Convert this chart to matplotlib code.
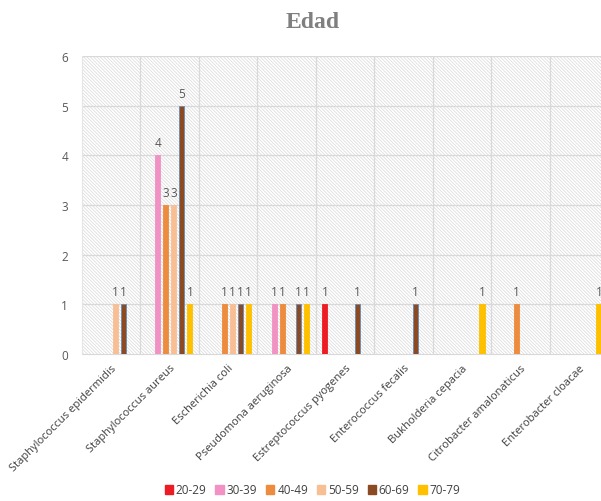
import matplotlib
matplotlib.use("Agg")
import matplotlib.pyplot as plt
import numpy as np
from matplotlib.patches import Rectangle, Patch

categories = [
    "Staphylococcus epidermidis", "Staphylococcus aureus", "Escherichia coli",
    "Pseudomona aeruginosa", "Estreptococcus pyogenes", "Enterococcus fecalis",
    "Bukholderia cepacia", "Citrobacter amalonaticus", "Enterobacter cloacae",
]
series_names = ["20-29", "30-39", "40-49", "50-59", "60-69", "70-79"]
v20_29 = [0, 0, 0, 0, 1, 0, 0, 0, 0]
v30_39 = [0, 4, 0, 1, 0, 0, 0, 0, 0]
v40_49 = [0, 3, 1, 1, 0, 0, 0, 1, 0]
v50_59 = [1, 3, 1, 0, 0, 0, 0, 0, 0]
v60_69 = [1, 5, 1, 1, 1, 1, 0, 0, 0]
v70_79 = [0, 1, 1, 1, 0, 0, 1, 0, 1]
values = [v20_29, v30_39, v40_49, v50_59, v60_69, v70_79]
colors = ["#ED1C24", "#F291C3", "#ED8B3E", "#F8BF95", "#8B4A21", "#FFC000"]
title = "Edad"

plt.rcParams["font.family"] = ["Open Sans", "DejaVu Sans"]
plt.rcParams["hatch.linewidth"] = 0.5
plt.rcParams["hatch.color"] = "#d8d8d8"

fig = plt.figure(figsize=(6.01, 5.02), dpi=100)
ax = fig.add_axes([82/601, 1-355/502, 526/601, 298/502])

n = len(categories)
x = np.arange(n)
pitch = 0.138
width = 0.088

# hatched background
ax.add_patch(Rectangle((0, 0), 1, 1, transform=ax.transAxes, facecolor="white",
                       edgecolor="#d8d8d8", hatch="\\" * 10, linewidth=0, zorder=0))

for i, (name, vals, c) in enumerate(zip(series_names, values, colors)):
    offs = (i - 2.5) * pitch
    vals = np.array(vals)
    mask = vals > 0
    ec = "#6a8bb5" if name == "60-69" else c
    ax.bar(x[mask] + offs, vals[mask], width=width, color=c,
           edgecolor=ec, linewidth=0.6, zorder=3, label=name)
    for xb, v in zip(x[mask] + offs, vals[mask]):
        ax.text(xb, v + 0.12, f"{v}", ha="center", va="bottom", fontsize=8.5,
                color="#595959", zorder=4)

ax.set_xlim(-0.5, n - 0.5)
ax.set_ylim(0, 6)
ax.set_yticks(range(0, 7))
ax.set_xticks(x)
ax.set_xticklabels(categories, rotation=45, ha="right", rotation_mode="anchor",
                   fontsize=8, color="#404040")
ax.tick_params(axis="x", length=0, pad=6)
ax.tick_params(axis="y", length=0, pad=10, labelsize=8.5, labelcolor="#595959")

for yv in range(1, 7):
    ax.axhline(yv, color="#d9d9d9", linewidth=0.9, zorder=1)
for xv in np.arange(0.5, n - 0.5, 1.0):
    ax.axvline(xv, color="#d9d9d9", linewidth=0.9, zorder=1)

for s in ["top", "right"]:
    ax.spines[s].set_visible(False)
ax.spines["bottom"].set_color("#d9d9d9")
ax.spines["bottom"].set_zorder(2)
ax.spines["left"].set_color("#e6e6e6")

fig.text(0.52, 1 - 23/502, title, ha="center", va="center", fontsize=17,
         fontweight="bold", color="#7f7f7f", family=["Liberation Serif", "DejaVu Serif"])

handles = [Patch(facecolor=c, edgecolor=c) for c in colors]
fig.legend(handles, series_names, loc="center", bbox_to_anchor=(0.52, 1 - 491/502),
           ncol=6, frameon=False, fontsize=8.5, handlelength=0.7, handleheight=0.7,
           handletextpad=0.25, columnspacing=0.75, labelcolor="#404040")

fig.savefig("out.png", dpi=100)
